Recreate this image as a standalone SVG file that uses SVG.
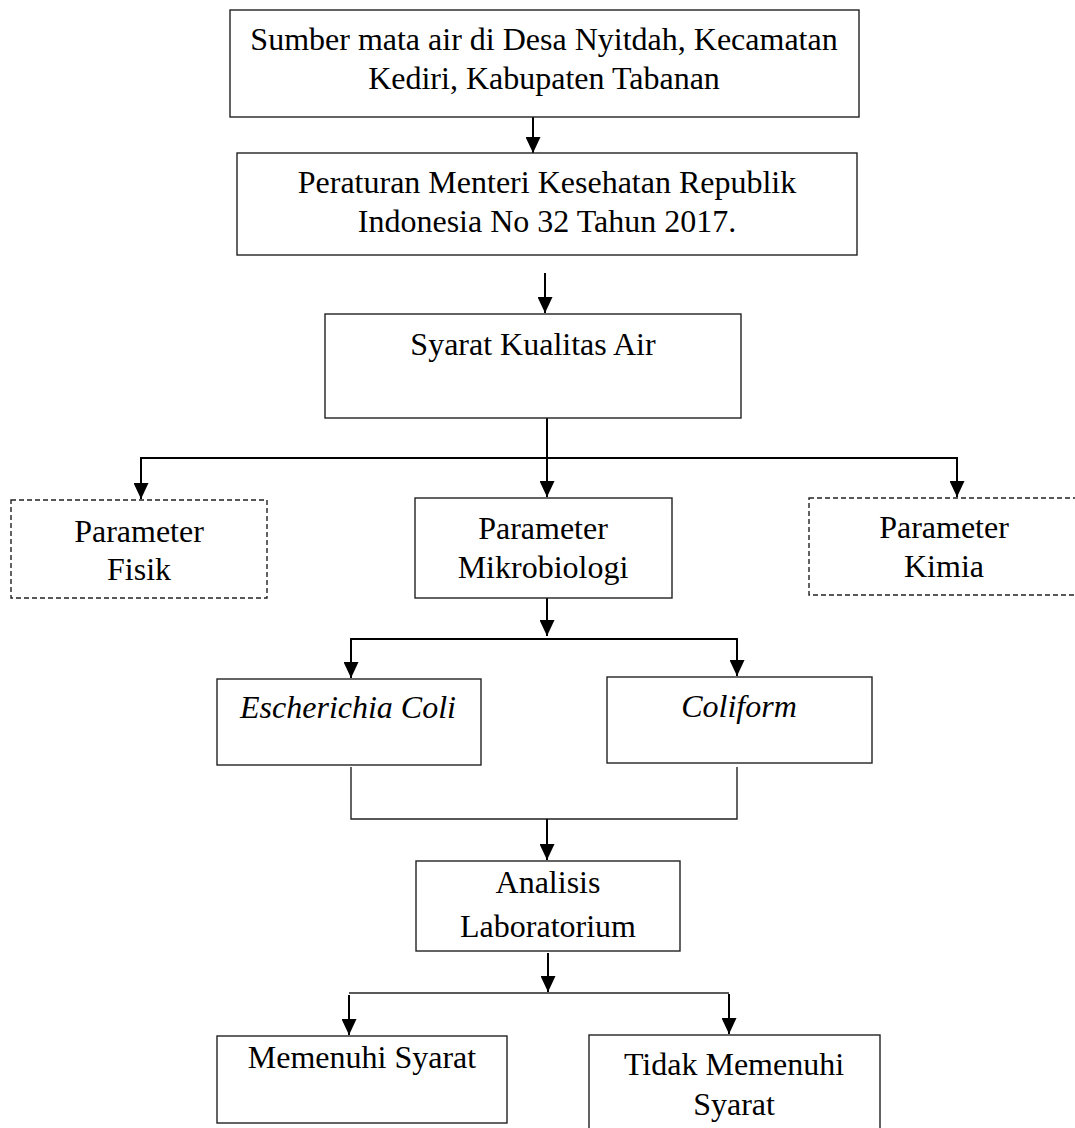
<svg xmlns="http://www.w3.org/2000/svg" width="1075" height="1128" viewBox="0 0 1075 1128">
<style>
  .box { fill: #fff; stroke: #222; stroke-width: 1.4; }
  .dash { fill: #fff; stroke: #222; stroke-width: 1.4; stroke-dasharray: 5 3; }
  .t { font-family: "Liberation Serif", "Times New Roman", serif; font-size: 32px; fill: #000; text-anchor: middle; }
  .i { font-style: italic; }
  .c { fill: none; stroke: #000; stroke-width: 2; }
  .j { fill: none; stroke: #222; stroke-width: 1.4; }
</style>
<defs>
  <marker id="ah" viewBox="0 0 16 15" refX="16" refY="7.5" markerWidth="16" markerHeight="15" markerUnits="userSpaceOnUse" orient="auto">
    <path d="M0,0 L16,7.5 L0,15 z" fill="#000"/>
  </marker>
</defs>
<rect width="1075" height="1128" fill="#fff"/>

<g id="connectors">
  <line class="c" x1="533" y1="117" x2="533" y2="153" marker-end="url(#ah)"/>
  <line class="c" x1="545" y1="273" x2="545" y2="313" marker-end="url(#ah)"/>
  <line class="c" x1="547" y1="418" x2="547" y2="497" marker-end="url(#ah)"/>
  <polyline class="c" points="141,499 141,458 957,458 957,497" marker-end="url(#ah)"/>
  <line class="c" x1="141" y1="459" x2="141" y2="499" marker-end="url(#ah)"/>
  <line class="c" x1="547" y1="598" x2="547" y2="636" marker-end="url(#ah)"/>
  <polyline class="c" points="351,639 737,639"/>
  <line class="c" x1="351" y1="638" x2="351" y2="678" marker-end="url(#ah)"/>
  <line class="c" x1="737" y1="638" x2="737" y2="676" marker-end="url(#ah)"/>
  <polyline class="j" points="351,767 351,819 737,819 737,767"/>
  <line class="c" x1="547" y1="819" x2="547" y2="860" marker-end="url(#ah)"/>
  <line class="c" x1="548" y1="953" x2="548" y2="992" marker-end="url(#ah)"/>
  <polyline class="j" points="349,993 729,993"/>
  <line class="c" x1="349" y1="995" x2="349" y2="1035" marker-end="url(#ah)"/>
  <line class="c" x1="729" y1="994" x2="729" y2="1034" marker-end="url(#ah)"/>
</g>

<g id="node-sumber">
  <rect class="box" x="230" y="10" width="629" height="107"/>
  <text class="t" x="544" y="50">Sumber mata air di Desa Nyitdah, Kecamatan</text>
  <text class="t" x="544" y="89">Kediri, Kabupaten Tabanan</text>
</g>

<g id="node-peraturan">
  <rect class="box" x="237" y="153" width="620" height="102"/>
  <text class="t" x="547" y="193">Peraturan Menteri Kesehatan Republik</text>
  <text class="t" x="547" y="232">Indonesia No 32 Tahun 2017.</text>
</g>

<g id="node-syarat">
  <rect class="box" x="325" y="314" width="416" height="104"/>
  <text class="t" x="533" y="355">Syarat Kualitas Air</text>
</g>

<g id="node-fisik">
  <rect class="dash" x="11" y="500" width="256" height="98"/>
  <text class="t" x="139" y="542">Parameter</text>
  <text class="t" x="139" y="580">Fisik</text>
</g>

<g id="node-mikro">
  <rect class="box" x="415" y="498" width="257" height="100"/>
  <text class="t" x="543" y="539">Parameter</text>
  <text class="t" x="543" y="578">Mikrobiologi</text>
</g>

<g id="node-kimia">
  <rect class="dash" x="809" y="498" width="268" height="97"/>
  <text class="t" x="944" y="538">Parameter</text>
  <text class="t" x="944" y="577">Kimia</text>
</g>

<g id="node-ecoli">
  <rect class="box" x="217" y="679" width="264" height="86"/>
  <text class="t i" x="348" y="718">Escherichia Coli</text>
</g>

<g id="node-coliform">
  <rect class="box" x="607" y="677" width="265" height="86"/>
  <text class="t i" x="739" y="717">Coliform</text>
</g>

<g id="node-analisis">
  <rect class="box" x="416" y="861" width="264" height="90"/>
  <text class="t" x="548" y="893">Analisis</text>
  <text class="t" x="548" y="937">Laboratorium</text>
</g>

<g id="node-memenuhi">
  <rect class="box" x="217" y="1036" width="290" height="87"/>
  <text class="t" x="362" y="1068">Memenuhi Syarat</text>
</g>

<g id="node-tidak">
  <rect class="box" x="589" y="1035" width="291" height="100"/>
  <text class="t" x="734" y="1075">Tidak Memenuhi</text>
  <text class="t" x="734" y="1115">Syarat</text>
</g>
</svg>
